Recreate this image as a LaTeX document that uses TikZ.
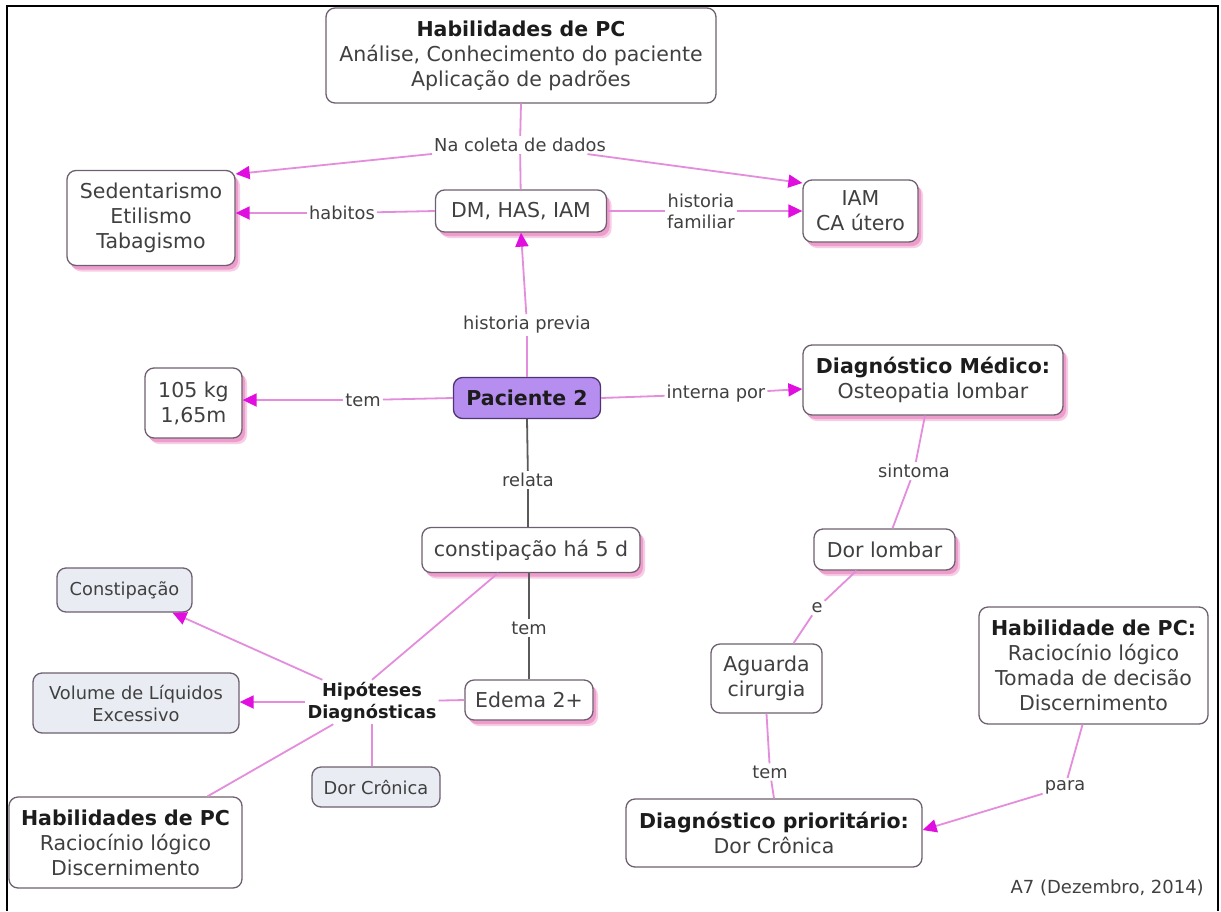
\documentclass[tikz,border=0pt]{standalone}
\usepackage{fontspec}
\setmainfont{DejaVu Sans}
\usetikzlibrary{arrows.meta,shadows}

\definecolor{edgepink}{HTML}{E48DDC}
\definecolor{tipmag}{HTML}{E00FE0}
\definecolor{boxline}{HTML}{6E6070}
\definecolor{shpink}{HTML}{EE9CCB}
\definecolor{paleblue}{HTML}{E9EDF3}
\definecolor{pacfill}{HTML}{B68EF0}
\definecolor{pacline}{HTML}{4E3470}
\definecolor{txt}{HTML}{404040}
\definecolor{darktxt}{HTML}{1C1C1C}
\definecolor{greyline}{HTML}{5A5A5A}

\newcommand{\headtxt}[1]{{\bfseries\color{darktxt}#1}}

\tikzset{
  concept/.style={draw=boxline, line width=1.3pt, rounded corners=9pt, fill=white,
    text=txt, align=center, inner sep=0pt, font=\fontsize{20.5}{25}\selectfont},
  smallconcept/.style={concept, fill=paleblue, font=\fontsize{17.8}{22}\selectfont},
  shadowed/.style={
    general shadow={fill=shpink!50, shadow xshift=5pt, shadow yshift=-6pt},
    general shadow={fill=shpink, shadow xshift=3pt, shadow yshift=-4pt}},
  lbl/.style={text=txt, align=center, inner sep=2pt, font=\fontsize{17.8}{21}\selectfont},
  link/.style={draw=edgepink, line width=1.8pt},
  arr/.style={link, -{Triangle[length=14pt,width=13pt,color=tipmag]}},
  glink/.style={draw=greyline, line width=1.8pt},
}

\begin{document}
\begin{tikzpicture}[x=1pt, y=-1pt]
\useasboundingbox (0,0) rectangle (1221,911);
\fill[white] (0,0) rectangle (1221,911);
% page frame
\draw[line width=2.5pt] (7,911) -- (7,6) -- (1218,6) -- (1218,911);

% concepts
\node[concept, minimum width=390pt, minimum height=95pt] (hab1) at (521,55.5)
  {\headtxt{Habilidades de PC}\\Análise, Conhecimento do paciente\\Aplicação de padrões};
\node[concept, shadowed, minimum width=168pt, minimum height=95pt] (sed) at (151,218)
  {Sedentarismo\\Etilismo\\Tabagismo};
\node[concept, shadowed, minimum width=171pt, minimum height=42pt] (dm) at (521,211)
  {DM, HAS, IAM};
\node[concept, shadowed, minimum width=115pt, minimum height=62pt] (iam) at (860.5,211)
  {IAM\\CA útero};
\node[concept, shadowed, minimum width=97pt, minimum height=70pt] (kg) at (193.5,403)
  {105 kg\\1,65m};
\node[concept, fill=pacfill, draw=pacline, text=darktxt, minimum width=147pt, minimum height=41pt,
  font=\fontsize{20.5}{25}\selectfont\bfseries] (pac) at (527,398) {Paciente 2};
\node[concept, shadowed, minimum width=260pt, minimum height=70pt] (dmed) at (933,380)
  {\headtxt{Diagnóstico Médico:}\\Osteopatia lombar};
\node[concept, shadowed, minimum width=218pt, minimum height=45pt] (cons5) at (531,550)
  {constipação há 5 d};
\node[concept, shadowed, minimum width=141pt, minimum height=41pt] (dorl) at (884.5,549.5)
  {Dor lombar};
\node[smallconcept, minimum width=135pt, minimum height=44pt] (const) at (124.5,590)
  {Constipação};
\node[smallconcept, minimum width=206pt, minimum height=60pt] (vol) at (136,703)
  {Volume de Líquidos\\Excessivo};
\node[concept, shadowed, minimum width=128pt, minimum height=40pt] (edema) at (529,700)
  {Edema 2+};
\node[smallconcept, minimum width=128pt, minimum height=40pt] (dorc) at (376,787)
  {Dor Crônica};
\node[concept, minimum width=233pt, minimum height=91pt] (hab2) at (125.5,842.5)
  {\headtxt{Habilidades de PC}\\Raciocínio lógico\\Discernimento};
\node[concept, minimum width=111pt, minimum height=69pt] (agu) at (766.5,678.5)
  {Aguarda\\cirurgia};
\node[concept, minimum width=229pt, minimum height=117pt] (hab3) at (1093.5,665.5)
  {\headtxt{Habilidade de PC:}\\Raciocínio lógico\\Tomada de decisão\\Discernimento};
\node[concept, minimum width=296pt, minimum height=68pt] (dprio) at (774,833)
  {\headtxt{Diagnóstico prioritário:}\\Dor Crônica};

% linking phrases
\node[lbl] (nacol) at (520,145) {Na coleta de dados};
\node[lbl] (habitos) at (342,213) {habitos};
\node[lbl] (hf) at (701,211) {historia\\familiar};
\node[lbl] (hp) at (527,325) {historia previa};
\node[lbl] (temkg) at (363,400) {tem};
\node[lbl] (intp) at (716,394) {interna por};
\node[lbl] (relata) at (528,480) {relata};
\node[lbl] (sint) at (914,471) {sintoma};
\node[lbl] (elbl) at (817,608) {e};
\node[lbl] (tem2) at (529,628) {tem};
\node[lbl] (tem3) at (770,772) {tem};
\node[lbl] (para) at (1065,787) {para};
\node[lbl, text=darktxt, font=\fontsize{17.8}{22}\selectfont\bfseries] (hip) at (372,702)
  {Hipóteses\\Diagnósticas};
\node[text=txt, anchor=east, inner sep=0pt, font=\fontsize{18}{22}\selectfont] (a7) at (1204,888)
  {A7 (Dezembro, 2014)};

% connectors
\draw[link] (hab1.south) -- (nacol);
\draw[link] (nacol) -- (dm);
\draw[arr] (nacol) -- ([yshift=44pt]sed.east);
\draw[arr] (nacol) -- ([yshift=28pt]iam.west);

\draw[link] (dm.west) -- (habitos);
\draw[arr] (habitos) -- (habitos -| sed.east);
\draw[link] (dm.east) -- (hf);
\draw[arr] (hf) -- (hf -| iam.west);

\draw[link] (pac.north) -- (hp);
\draw[arr] (hp) -- (dm.south);
\draw[link] (pac.west) -- (temkg);
\draw[arr] (temkg) -- (temkg -| kg.east);
\draw[link] (pac.east) -- (intp);
\draw[arr] (intp) -- ([yshift=-9pt]dmed.west);
\draw[glink] (pac.south) -- (relata);
\draw[glink] (relata) -- (relata |- cons5.north);

\draw[link] ([xshift=-8pt]dmed.south) -- (sint);
\draw[link] (sint) -- ([xshift=8pt]dorl.north);
\draw[link] ([xshift=-28pt]dorl.south) -- (elbl);
\draw[link] (elbl) -- ([xshift=27pt]agu.north);
\draw[link] (agu.south) -- (tem3);
\draw[link] (tem3) -- (dprio.north);
\draw[link] ([xshift=-11pt]hab3.south) -- (para);
\draw[arr] (para) -- ([yshift=3pt]dprio.east);

\draw[glink] (tem2 |- cons5.south) -- (tem2);
\draw[glink] (tem2) -- (tem2 |- edema.north);
\draw[link] ([xshift=-33pt]cons5.south) -- (hip.north);
\draw[link] (edema.west) -- (hip);
\draw[arr] (hip) -- ([xshift=48pt]const.south);
\draw[arr] (hip) -- (hip -| vol.east);
\draw[link] (hip.south) -- (hip.south |- dorc.north);
\draw[link] (hip) -- ([xshift=82pt]hab2.north);
\end{tikzpicture}
\end{document}
